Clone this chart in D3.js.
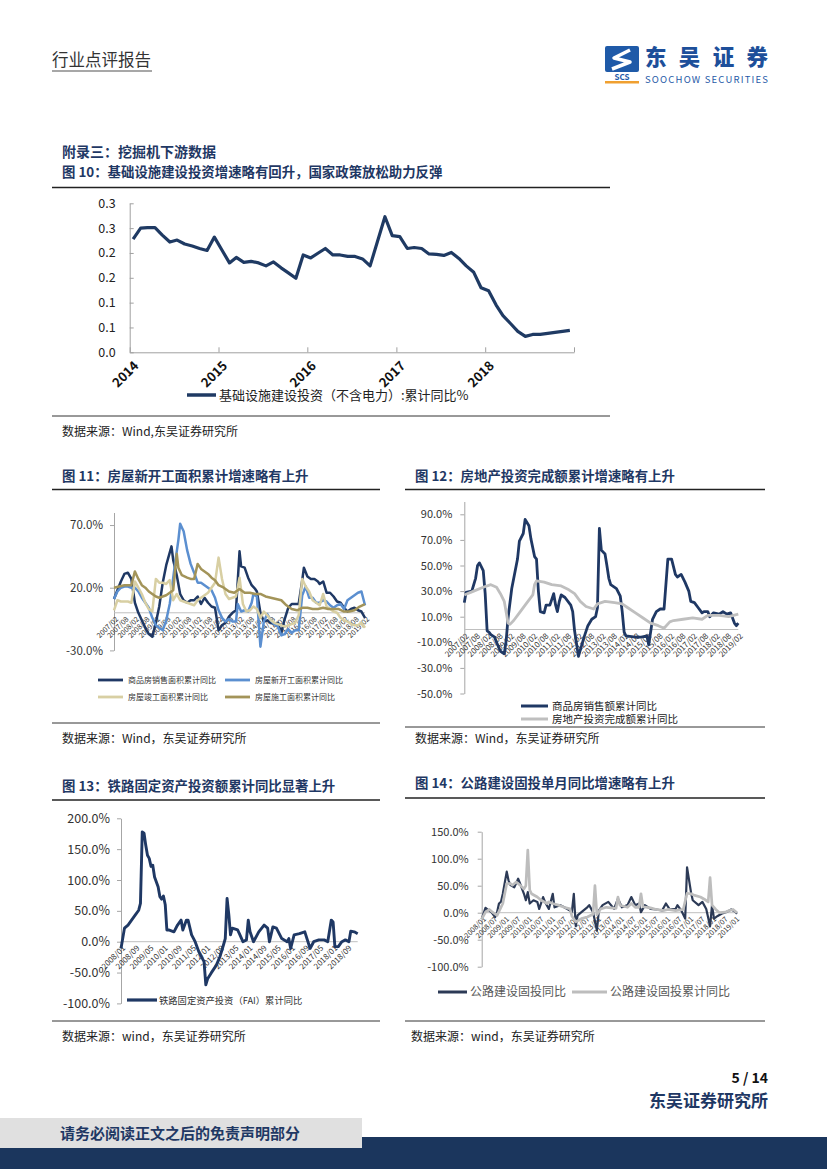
<!DOCTYPE html>
<html>
<head>
<meta charset="utf-8">
<script src="https://cdn.jsdelivr.net/npm/d3@7"></script>
<style>
  body { margin: 0; background: #fff; }
  svg text { font-family: "Noto Sans CJK SC", sans-serif; }
</style>
</head>
<body>
<svg id="page" width="827" height="1169"></svg>
<script>
// ---- chart 10: infrastructure investment, cumulative yoy ----
const c10Months = [
  "2014-01","2014-02","2014-03","2014-04","2014-05","2014-06","2014-07","2014-08","2014-09","2014-10","2014-11","2014-12",
  "2015-01","2015-02","2015-03","2015-04","2015-05","2015-06","2015-07","2015-08","2015-09","2015-10","2015-11","2015-12",
  "2016-01","2016-02","2016-03","2016-04","2016-05","2016-06","2016-07","2016-08","2016-09","2016-11","2016-12",
  "2017-01","2017-02","2017-03","2017-04","2017-05","2017-06","2017-07","2017-08","2017-09","2017-10","2017-11","2017-12",
  "2018-01","2018-02","2018-03","2018-04","2018-05","2018-06","2018-07","2018-08","2018-09","2018-10","2018-11","2018-12"
];
const c10Values = [
  0.228,0.250,0.251,0.251,0.236,0.222,0.226,0.218,0.214,0.209,0.205,0.232,
  0.206,0.180,0.191,0.181,0.183,0.180,0.174,0.182,0.170,0.160,0.149,0.196,
  0.190,0.200,0.209,0.196,0.196,0.193,0.193,0.188,0.174,0.273,0.235,
  0.233,0.209,0.211,0.209,0.198,0.197,0.195,0.201,0.189,0.174,0.161,0.130,
  0.124,0.095,0.074,0.058,0.042,0.032,0.036,0.036,0.038,0.040,0.042,0.044
];
const c10YTicks = [0, 0.05, 0.10, 0.15, 0.20, 0.25, 0.30];
const c10YLabels = ["0.0","0.1","0.1","0.2","0.2","0.3","0.3"];
const c10Years = ["2014","2015","2016","2017","2018","2019"];
const c10YearLabels = ["2014","2015","2016","2017","2018",""];

// ---- chart 11: housing floor space, cumulative yoy (%) ----
const housingLabels = ["2007/02","2007/08","2008/02","2008/08","2009/02","2009/08","2010/02","2010/08","2011/02","2011/08",
  "2012/02","2012/08","2013/02","2013/08","2014/02","2014/08","2015/02","2015/08","2016/02","2016/08","2017/02","2017/08",
  "2018/02","2018/08","2019/02"];
const c11YTicks = [-30, 20, 70];
const c11YLabels = ["-30.0%","20.0%","70.0%"];
const c11Sales = [["2007/02",11],["2007/04",18],["2007/06",25],["2007/08",31],["2007/10",32],["2007/12",27],
  ["2008/02",8],["2008/04",0],["2008/06",-6],["2008/08",-12],["2008/10",-17],["2008/12",-19],
  ["2009/02",-8],["2009/04",5],["2009/06",24],["2009/08",38],["2009/10",48],["2009/11",53],["2009/12",42],
  ["2010/02",30],["2010/04",15],["2010/06",10],["2010/08",8],["2010/10",10],["2010/12",10],
  ["2011/02",13],["2011/04",7],["2011/06",12],["2011/08",8],["2011/10",5],["2011/12",4],
  ["2012/02",-14],["2012/04",-10],["2012/06",-8],["2012/08",-3],["2012/10",0],["2012/12",2],
  ["2013/02",49],["2013/03",37],["2013/05",36],["2013/07",28],["2013/09",22],["2013/11",19],["2013/12",17],
  ["2014/02",0],["2014/04",-7],["2014/06",-6],["2014/08",-8],["2014/10",-9],["2014/12",-8],
  ["2015/02",-16],["2015/04",-5],["2015/06",4],["2015/08",7],["2015/10",7],["2015/12",7],
  ["2016/02",26],["2016/03",36],["2016/05",29],["2016/07",27],["2016/09",27],["2016/11",25],["2016/12",23],
  ["2017/02",25],["2017/04",16],["2017/06",16],["2017/08",13],["2017/10",9],["2017/12",8],
  ["2018/02",4],["2018/04",1],["2018/06",3],["2018/08",4],["2018/10",2],["2018/12",1],["2019/02",-4]];
const c11NewStart = [["2007/02",11],["2007/04",17],["2007/06",20],["2007/08",21],["2007/10",21],["2007/12",20],
  ["2008/02",20],["2008/04",17],["2008/06",12],["2008/08",8],["2008/10",4],["2008/12",-4],
  ["2009/02",-10],["2009/04",-12],["2009/06",-14],["2009/08",-6],["2009/10",7],["2009/11",17],["2010/01",39],
  ["2010/03",58],["2010/04",71],["2010/05",68],["2010/06",65],["2010/08",50],["2010/10",39],["2010/12",32],
  ["2011/02",24],["2011/04",24],["2011/06",22],["2011/08",20],["2011/10",18],["2011/12",12],
  ["2012/02",2],["2012/04",-4],["2012/06",-7],["2012/08",-5],["2012/10",-7],["2012/12",-7],
  ["2013/01",7],["2013/03",1],["2013/05",2],["2013/07",1],["2013/09",8],["2013/10",15],["2013/12",13],
  ["2014/02",-27],["2014/04",-7],["2014/06",-1],["2014/08",-6],["2014/10",-9],["2014/12",-11],
  ["2015/02",-18],["2015/04",-17],["2015/06",-13],["2015/08",-16],["2015/10",-14],["2015/12",-14],
  ["2016/02",14],["2016/04",21],["2016/06",12],["2016/08",12],["2016/10",8],["2016/12",8],
  ["2017/02",10],["2017/04",9],["2017/06",6],["2017/08",4],["2017/10",6],["2017/12",7],
  ["2018/02",3],["2018/04",10],["2018/06",12],["2018/08",14],["2018/10",16],["2018/12",17],["2019/02",6]];
const c11Completed = [["2007/02",2],["2007/04",10],["2007/06",9],["2007/08",9],["2007/10",9],["2007/12",8],
  ["2008/02",25],["2008/04",20],["2008/06",15],["2008/08",8],["2008/10",3],["2008/12",1],
  ["2009/02",27],["2009/04",24],["2009/06",24],["2009/08",23],["2009/10",26],["2009/12",10],
  ["2010/02",15],["2010/04",10],["2010/06",9],["2010/08",8],["2010/10",7],["2010/12",6],
  ["2011/02",10],["2011/04",12],["2011/06",14],["2011/08",16],["2011/10",20],["2011/12",24],
  ["2012/02",44],["2012/04",27],["2012/06",15],["2012/08",11],["2012/10",12],["2012/12",13],
  ["2013/02",28],["2013/04",7],["2013/06",1],["2013/08",2],["2013/10",5],["2013/12",3],
  ["2014/02",-4],["2014/04",1],["2014/06",-2],["2014/08",-6],["2014/10",-8],["2014/12",-9],
  ["2015/02",-10],["2015/04",-11],["2015/06",-10],["2015/08",-9],["2015/10",-8],["2015/12",-2],
  ["2016/02",27],["2016/04",21],["2016/06",17],["2016/08",10],["2016/10",8],["2016/12",6],
  ["2017/02",15],["2017/04",5],["2017/06",3],["2017/08",1],["2017/10",0],["2017/12",-4],
  ["2018/02",-6],["2018/04",-7],["2018/06",-9],["2018/08",-10],["2018/10",-10],["2018/12",-8],["2019/02",-12]];
const c11UnderConst = [["2007/02",20],["2007/05",21],["2007/08",22],["2007/12",22],
  ["2008/02",33],["2008/04",27],["2008/06",22],["2008/08",20],["2008/10",17],["2008/12",15],
  ["2009/02",13],["2009/04",12],["2009/06",13],["2009/08",14],["2009/10",16],["2009/12",18],
  ["2010/02",47],["2010/03",36],["2010/05",30],["2010/08",28],["2010/10",27],["2010/12",27],
  ["2011/02",39],["2011/04",35],["2011/06",33],["2011/08",31],["2011/10",28],["2011/12",26],
  ["2012/02",22],["2012/05",20],["2012/08",17],["2012/11",16],
  ["2013/02",19],["2013/05",16],["2013/08",16],["2013/11",15],
  ["2014/02",15],["2014/05",13],["2014/08",12],["2014/11",11],
  ["2015/02",10],["2015/05",6],["2015/08",3],["2015/11",2],
  ["2016/02",4],["2016/05",4],["2016/08",3],["2016/11",3],
  ["2017/02",4],["2017/05",3],["2017/08",3],["2017/11",3],
  ["2018/02",1],["2018/05",1],["2018/08",2],["2018/11",5],["2019/02",7]];

// ---- chart 12: sales amount & real estate investment, cumulative yoy (%) ----
const c12YTicks = [-50, -30, -10, 10, 30, 50, 70, 90];
const c12YLabels = ["-50.0%","-30.0%","-10.0%","10.0%","30.0%","50.0%","70.0%","90.0%"];
const c12SalesAmt = [["2007/02",21],["2007/03",29],["2007/06",30],["2007/08",40],["2007/09",50],["2007/10",52],["2007/12",46],
  ["2008/01",28],["2008/02",-1],["2008/03",-2],["2008/04",-4],["2008/06",-6],["2008/07",-10],["2008/09",-17],["2008/11",-19],
  ["2008/12",-9],["2009/01",9],["2009/03",32],["2009/06",55],["2009/07",69],["2009/09",75],["2009/10",86],["2009/12",81],
  ["2010/01",71],["2010/03",57],["2010/04",55],["2010/05",30],["2010/06",14],["2010/08",13],["2010/09",19],["2010/11",19],
  ["2011/01",28],["2011/02",19],["2011/03",14],["2011/04",22],["2011/05",27],["2011/07",25],["2011/10",19],["2011/11",14],
  ["2011/12",-1],["2012/01",-11],["2012/02",-21],["2012/05",-6],["2012/07",3],["2012/09",8],["2012/11",10],["2012/12",17],
  ["2013/01",79],["2013/02",62],["2013/04",59],["2013/05",50],["2013/06",40],["2013/07",35],["2013/10",32],["2013/12",26],
  ["2014/01",14],["2014/02",-2],["2014/03",-5],["2014/08",-6],["2014/11",-6],["2015/02",-5],["2015/03",-12],
  ["2015/05",8],["2015/07",14],["2015/09",16],["2015/11",16],["2016/01",55],["2016/03",55],["2016/05",43],["2016/06",41],
  ["2016/08",43],["2016/10",37],["2016/12",30],["2017/01",22],["2017/03",21],["2017/05",17],["2017/07",13],["2017/08",14],
  ["2017/10",14],["2017/11",10],["2018/01",13],["2018/04",12],["2018/06",14],["2018/08",12],["2018/10",13],["2018/12",5],
  ["2019/01",3],["2019/02",5]];
const c12Invest = [["2007/02",27],["2007/07",30],["2007/12",33],["2008/04",35],["2008/07",33],["2008/09",28],["2008/11",22],
  ["2009/01",5],["2009/02",4],["2009/04",7],["2009/07",13],["2009/10",19],["2010/02",27],["2010/03",35],["2010/04",38],
  ["2010/08",37],["2010/12",35],["2011/05",34],["2011/09",31],["2011/12",28],["2012/03",22],["2012/06",18],["2012/10",16],
  ["2012/12",20],["2013/04",22],["2013/09",21],["2014/01",20],["2014/04",17],["2014/08",13],["2014/12",9],["2015/04",5],
  ["2015/08",3],["2015/11",1],["2016/02",6],["2016/04",7],["2016/09",8],["2017/02",9],["2017/07",8],["2017/10",11],
  ["2018/04",11],["2018/09",10],["2019/02",12]];

// ---- chart 13: railway FAI, cumulative yoy (%) ----
const c13Labels = ["2008/01","2008/09","2009/05","2010/01","2010/09","2011/05","2012/01","2012/09","2013/05","2014/01",
  "2014/09","2015/05","2016/01","2016/09","2017/05","2018/01","2018/09"];
const c13YTicks = [-100, -50, 0, 50, 100, 150, 200];
const c13YLabels = ["-100.0%","-50.0%","0.0%","50.0%","100.0%","150.0%","200.0%"];
const c13Rail = [["2008/01",-11],["2008/03",22],["2008/05",27],["2008/07",35],["2008/09",43],["2008/11",51],["2008/12",62],
  ["2009/01",178],["2009/02",176],["2009/03",157],["2009/04",140],["2009/05",135],["2009/06",122],["2009/07",124],["2009/08",105],
  ["2009/10",89],["2009/11",73],["2009/12",69],["2010/01",74],["2010/02",60],["2010/03",19],["2010/04",19],["2010/07",16],
  ["2010/09",27],["2010/11",35],["2010/12",19],["2011/02",35],["2011/03",35],["2011/05",11],["2011/07",0],["2011/09",-16],
  ["2011/11",-27],["2011/12",-32],["2012/01",-70],["2012/02",-60],["2012/04",-51],["2012/07",-38],["2012/09",-24],
  ["2012/11",-5],["2012/12",5],["2013/01",70],["2013/02",43],["2013/03",11],["2013/04",22],["2013/07",19],["2013/08",13],
  ["2013/10",0],["2013/12",3],["2014/01",35],["2014/02",16],["2014/04",0],["2014/07",16],["2014/10",27],["2014/12",22],
  ["2015/01",0],["2015/03",24],["2015/05",22],["2015/08",5],["2015/11",0],["2015/12",5],["2016/01",-11],["2016/03",11],
  ["2016/06",13],["2016/09",16],["2016/12",-11],["2017/02",0],["2017/05",3],["2017/08",3],["2017/10",0],["2017/12",35],
  ["2018/01",32],["2018/02",-8],["2018/04",-8],["2018/06",0],["2018/08",3],["2018/10",0],["2018/11",17],["2019/01",16],
  ["2019/03",13]];

// ---- chart 14: highway FAI, single month & cumulative yoy (%) ----
const c14Labels = ["2008/01","2008/07","2009/01","2009/07","2010/01","2010/07","2011/01","2011/07","2012/01","2012/07",
  "2013/01","2013/07","2014/01","2014/07","2015/01","2015/07","2016/01","2016/07","2017/01","2017/07","2018/01","2018/07","2019/01"];
const c14YTicks = [-100, -50, 0, 50, 100, 150];
const c14YLabels = ["-100.0%","-50.0%","0.0%","50.0%","100.0%","150.0%"];
const c14Monthly = [["2008/01",-12],["2008/03",9],["2008/04",6],["2008/06",1],["2008/08",-8],["2008/09",1],["2008/10",17],
  ["2008/11",20],["2008/12",35],["2009/02",76],["2009/03",60],["2009/04",51],["2009/06",47],["2009/08",63],["2009/09",54],
  ["2009/11",35],["2009/12",23],["2010/01",38],["2010/02",17],["2010/04",23],["2010/06",20],["2010/07",7],["2010/09",29],
  ["2010/10",20],["2010/12",7],["2011/02",35],["2011/03",10],["2011/06",14],["2011/08",10],["2011/11",4],["2011/12",1],
  ["2012/01",35],["2012/02",-25],["2012/03",-5],["2012/05",1],["2012/08",10],["2012/09",14],["2012/11",1],["2013/01",-33],
  ["2013/02",4],["2013/04",14],["2013/07",20],["2013/10",7],["2013/12",26],["2014/02",10],["2014/05",14],["2014/07",29],
  ["2014/09",14],["2014/11",17],["2014/12",1],["2015/02",14],["2015/05",7],["2015/08",6],["2015/11",4],["2016/01",17],
  ["2016/03",6],["2016/06",7],["2016/07",14],["2016/09",4],["2016/11",-11],["2016/12",84],["2017/02",38],["2017/03",23],
  ["2017/06",14],["2017/08",20],["2017/10",7],["2017/12",-25],["2018/01",14],["2018/02",-11],["2018/04",-6],["2018/06",-2],
  ["2018/09",2],["2018/11",6],["2019/01",2],["2019/02",-2]];
const c14Cumul = [["2008/01",-12],["2008/03",1],["2008/05",6],["2008/07",0],["2008/09",-5],["2008/11",10],["2008/12",17],
  ["2009/02",54],["2009/04",54],["2009/05",51],["2009/07",57],["2009/09",51],["2009/11",44],["2009/12",50],["2010/01",116],
  ["2010/02",42],["2010/03",35],["2010/06",29],["2010/08",23],["2010/11",17],["2010/12",20],["2011/02",17],["2011/05",14],
  ["2011/08",10],["2011/11",7],["2011/12",-6],["2012/02",-17],["2012/05",-11],["2012/08",-8],["2012/11",-3],["2012/12",50],
  ["2013/01",-4],["2013/03",7],["2013/06",10],["2013/11",8],["2013/12",29],["2014/01",14],["2014/02",13],["2014/05",10],
  ["2014/07",17],["2014/09",10],["2014/11",10],["2014/12",35],["2015/01",11],["2015/05",9],["2015/08",6],["2015/12",4],
  ["2016/02",6],["2016/06",4],["2016/10",6],["2016/12",36],["2017/02",35],["2017/04",32],["2017/07",29],["2017/09",25],
  ["2017/11",20],["2017/12",65],["2018/01",14],["2018/03",6],["2018/05",0],["2018/08",1],["2018/10",4],["2018/12",6],
  ["2019/02",0]];

// ---------------------------------------------------------------
const svg = d3.select('#page');
const CJK = '"Noto Sans CJK SC", sans-serif';
const MONO = '"DejaVu Sans Mono", monospace';
const SANS = '"Liberation Sans", Arial, sans-serif';
const NAVY = '#1f3864';
const LINE_NAVY = '#1f3a63';

const parseMonth = s => { const [y, m] = s.split(/[\/-]/).map(Number); return new Date(y, m - 1, 1); };
const parseMid = s => { const [y, m] = s.split(/[\/-]/).map(Number); return new Date(y, m - 1, 15); };

function txt(x, y, str, size, opts = {}) {
  return svg.append('text')
    .attr('x', x).attr('y', y)
    .attr('font-size', size)
    .attr('font-family', opts.family || CJK)
    .attr('font-weight', opts.weight || 400)
    .attr('fill', opts.fill || '#222')
    .attr('text-anchor', opts.anchor || 'start')
    .text(str);
}
function hline(x1, x2, y, color, w) {
  svg.append('line').attr('x1', x1).attr('x2', x2).attr('y1', y).attr('y2', y)
    .attr('stroke', color).attr('stroke-width', w);
}

// ---- page header ----
txt(52, 66, '行业点评报告', 16.5, { fill: '#333' });
hline(52, 152, 71, '#8a8a8a', 1.5);

// logo
svg.append('rect').attr('x', 605).attr('y', 46).attr('width', 34).attr('height', 26).attr('fill', '#1f5aa8').attr('rx', 2);
svg.append('path').attr('d', 'M630,50 L614,58 L630,62 L612,69').attr('fill', 'none')
  .attr('stroke', '#fff').attr('stroke-width', 3.5).attr('stroke-linejoin', 'round');
txt(622, 79.5, 'SCS', 8, { family: SANS, weight: 700, fill: '#1f5aa8', anchor: 'middle' });
svg.append('rect').attr('x', 605).attr('y', 81).attr('width', 34).attr('height', 2.5).attr('fill', '#f0a030');
txt(645, 65, '东吴证券', 21.5, { weight: 900, fill: '#1d4f9a' }).attr('textLength', 123);
txt(645, 82.5, 'SOOCHOW SECURITIES', 9.5, { family: SANS, fill: '#1f5aa8' }).attr('textLength', 123);

// ---- chart 10 ----
txt(62, 157, '附录三：挖掘机下游数据', 14, { weight: 700, fill: NAVY });
txt(62, 177, '图 10：基础设施建设投资增速略有回升，国家政策放松助力反弹', 13.4, { weight: 700, fill: NAVY });
hline(52, 610, 187.5, '#222', 1.6);

const c10x = d3.scaleTime().domain([new Date(2014, 0, 1), new Date(2019, 0, 1)]).range([129.7, 574]);
const c10y = d3.scaleLinear().domain([0, 0.30]).range([352.3, 203.3]);

const ya10 = svg.append('g').attr('transform', `translate(${c10x.range()[0]},0)`)
  .call(d3.axisLeft(c10y).tickValues(c10YTicks).tickSize(-4).tickSizeOuter(0).tickPadding(14)
    .tickFormat((d, i) => c10YLabels[i]));
const xa10 = svg.append('g').attr('transform', `translate(0,${c10y(0)})`)
  .call(d3.axisBottom(c10x).tickValues(c10Years.map(y => new Date(+y, 0, 1))).tickSize(-5).tickSizeOuter(0)
    .tickFormat((d, i) => c10YearLabels[i]));
[ya10, xa10].forEach(a => {
  a.select('.domain').attr('stroke', '#a0a0a0');
  a.selectAll('.tick line').attr('stroke', '#a0a0a0');
});
ya10.selectAll('text').attr('font-family', MONO).attr('font-size', 12.5).attr('fill', '#222');
xa10.selectAll('text')
  .attr('x', 0).attr('y', 0).attr('dy', '0.35em')
  .attr('text-anchor', 'end')
  .attr('transform', 'translate(6,11) rotate(-45)')
  .attr('font-family', SANS).attr('font-weight', 700).attr('font-size', 13).attr('fill', '#111');

const c10line = d3.line().x((d, i) => c10x(parseMid(c10Months[i]))).y(d => c10y(d));
svg.append('path').datum(c10Values).attr('d', c10line)
  .attr('fill', 'none').attr('stroke', LINE_NAVY).attr('stroke-width', 3.2).attr('stroke-linejoin', 'round');

hline(187, 216, 395, LINE_NAVY, 3.5);
txt(219, 399.5, '基础设施建设投资（不含电力）:累计同比%', 13, { fill: '#222' });
hline(52, 610, 416, '#333', 1);
txt(62, 436, '数据来源：Wind,东吴证券研究所', 12, { fill: '#222' });

// ---- generic panel for charts 11-14 ----
function drawPanel(cfg) {
  const x = d3.scaleTime().domain(cfg.xDomain.map(parseMonth)).range(cfg.xRange);
  const y = d3.scaleLinear().domain(cfg.yDomain).range(cfg.yRange);
  const g = svg.append('g');

  const ya = g.append('g').attr('transform', `translate(${cfg.xRange[0]},0)`)
    .call(d3.axisLeft(y).tickValues(cfg.yTicks).tickSize(4).tickSizeOuter(0).tickPadding(cfg.yPad)
      .tickFormat((d, i) => cfg.yLabels[i]));
  ya.select('.domain').attr('stroke', '#a6a6a6');
  ya.selectAll('.tick line').attr('stroke', '#a6a6a6');
  ya.selectAll('text').attr('font-family', MONO).attr('font-size', cfg.yFont).attr('fill', '#333');

  g.append('line').attr('x1', cfg.xRange[0]).attr('x2', cfg.xRange[1])
    .attr('y1', y(0)).attr('y2', y(0)).attr('stroke', '#bfbfbf').attr('stroke-width', 1);

  g.selectAll('text.xlab').data(cfg.xLabels).join('text')
    .attr('class', 'xlab')
    .attr('transform', d => `translate(${x(parseMonth(d)) + 3},${y(0) + 5}) rotate(-45)`)
    .attr('dy', '0.35em')
    .attr('text-anchor', 'end')
    .attr('font-family', SANS).attr('font-size', cfg.xFont).attr('fill', '#333')
    .text(d => d);

  const line = d3.line().x(d => x(parseMonth(d[0]))).y(d => y(d[1]));
  cfg.series.forEach(s => {
    g.append('path').datum(s.data).attr('d', line)
      .attr('fill', 'none').attr('stroke', s.color).attr('stroke-width', s.width)
      .attr('stroke-linejoin', 'round');
  });
}

// ---- chart 11 ----
txt(62, 481, '图 11：房屋新开工面积累计增速略有上升', 13.4, { weight: 700, fill: NAVY });
hline(52, 380, 489.5, '#222', 1.6);
drawPanel({
  xDomain: ['2007/02', '2019/02'], xRange: [114, 365],
  yDomain: [-30, 80], yRange: [650.4, 512.5],
  yTicks: c11YTicks, yLabels: c11YLabels, yFont: 11.5, yPad: 7,
  xLabels: housingLabels, xFont: 7.2,
  series: [
    { data: c11Sales, color: '#1f3864', width: 2.5 },
    { data: c11NewStart, color: '#5b8fd0', width: 2.5 },
    { data: c11Completed, color: '#d8cfa3', width: 2.5 },
    { data: c11UnderConst, color: '#a39459', width: 2.5 }
  ]
});
[[98, 680, '#1f3864', '商品房销售面积累计同比'], [225, 680, '#5b8fd0', '房屋新开工面积累计同比'],
 [98, 697, '#d8cfa3', '房屋竣工面积累计同比'], [225, 697, '#a39459', '房屋施工面积累计同比']].forEach(([lx, ly, c, t]) => {
  hline(lx, lx + 25, ly, c, 2.8);
  txt(lx + 30, ly + 3, t, 8, { fill: '#333' });
});
hline(52, 380, 723, '#333', 1);
txt(62, 743, '数据来源：Wind，东吴证券研究所', 12, { fill: '#222' });

// ---- chart 12 ----
txt(415, 481, '图 12：房地产投资完成额累计增速略有上升', 13.4, { weight: 700, fill: NAVY });
hline(405, 765, 489.5, '#222', 1.6);
drawPanel({
  xDomain: ['2007/02', '2019/02'], xRange: [464.3, 738.3],
  yDomain: [-50, 100], yRange: [693.5, 501.5],
  yTicks: c12YTicks, yLabels: c12YLabels, yFont: 11, yPad: 8,
  xLabels: housingLabels, xFont: 8,
  series: [
    { data: c12SalesAmt, color: '#1f3864', width: 2.8 },
    { data: c12Invest, color: '#bfbfbf', width: 2.8 }
  ]
});
hline(521, 548, 706, '#1f3864', 3);
txt(552, 709.5, '商品房销售额累计同比', 10.5, { fill: '#222' });
hline(521, 548, 719, '#bfbfbf', 3);
txt(552, 722.5, '房地产投资完成额累计同比', 10.5, { fill: '#222' });
hline(405, 765, 727, '#333', 1);
txt(415, 743, '数据来源：Wind，东吴证券研究所', 12, { fill: '#222' });

// ---- chart 13 ----
txt(62, 791, '图 13：铁路固定资产投资额累计同比显著上升', 13.4, { weight: 700, fill: NAVY });
hline(52, 380, 800, '#222', 1.6);
drawPanel({
  xDomain: ['2008/01', '2019/03'], xRange: [121, 357.7],
  yDomain: [-100, 200], yRange: [1003.4, 818.3],
  yTicks: c13YTicks, yLabels: c13YLabels, yFont: 12.5, yPad: 7,
  xLabels: c13Labels, xFont: 8,
  series: [{ data: c13Rail, color: '#1f3864', width: 2.9 }]
});
hline(127, 157, 1000, '#1f3864', 3.2);
txt(159, 1003.5, '铁路固定资产投资（FAI）累计同比', 9.3, { fill: '#333' });
hline(52, 380, 1021, '#333', 1);
txt(62, 1041, '数据来源：wind，东吴证券研究所', 12, { fill: '#222' });

// ---- chart 14 ----
txt(415, 788, '图 14：公路建设固投单月同比增速略有上升', 13.4, { weight: 700, fill: NAVY });
hline(405, 765, 798, '#222', 1.6);
drawPanel({
  xDomain: ['2008/01', '2019/02'], xRange: [481.7, 737],
  yDomain: [-100, 150], yRange: [966.7, 831.7],
  yTicks: c14YTicks, yLabels: c14YLabels, yFont: 11, yPad: 9,
  xLabels: c14Labels, xFont: 7.3,
  series: [
    { data: c14Monthly, color: '#2c3a56', width: 2.2 },
    { data: c14Cumul, color: '#bdbdbd', width: 2.7 }
  ]
});
hline(438, 467, 992, '#2c3a56', 3);
txt(470, 996, '公路建设固投同比', 12, { fill: '#595959' });
hline(572, 607, 992, '#bdbdbd', 3);
txt(610, 996, '公路建设固投累计同比', 12, { fill: '#595959' });
hline(405, 765, 1021, '#333', 1);
txt(411, 1041, '数据来源：wind，东吴证券研究所', 12, { fill: '#222' });

// ---- footer ----
txt(768, 1083, '5 / 14', 14, { family: '"Liberation Serif", serif', weight: 700, fill: '#111', anchor: 'end' });
txt(768, 1107, '东吴证券研究所', 17, { weight: 700, fill: NAVY, anchor: 'end' });
svg.append('rect').attr('x', 0).attr('y', 1118).attr('width', 362).attr('height', 30).attr('fill', '#e0e0e0');
svg.append('rect').attr('x', 362).attr('y', 1137).attr('width', 465).attr('height', 11).attr('fill', '#1b365d');
svg.append('rect').attr('x', 0).attr('y', 1148).attr('width', 827).attr('height', 21).attr('fill', '#1b365d');
txt(60, 1139, '请务必阅读正文之后的免责声明部分', 15, { weight: 700, fill: NAVY });
</script>
</body>
</html>
